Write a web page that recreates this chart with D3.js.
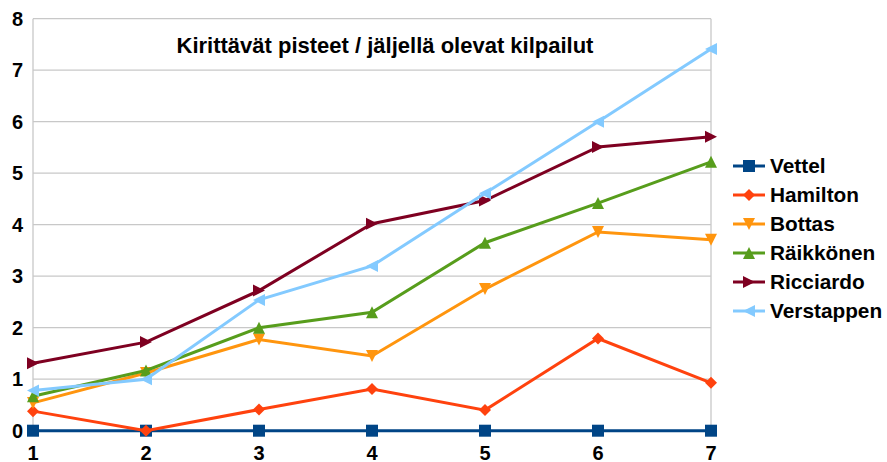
<!DOCTYPE html>
<html>
<head>
<meta charset="utf-8">
<script src="https://d3js.org/d3.v7.min.js"></script>
<style>
  body { margin: 0; background: #fff; }
  text { font-family: "Liberation Sans", Arial, sans-serif; font-weight: bold; fill: #000; }
</style>
</head>
<body>
<div id="chart"></div>
<script>
// races (x) and remaining points per race for each driver
var races = [1, 2, 3, 4, 5, 6, 7];
var yTicks = [0, 1, 2, 3, 4, 5, 6, 7, 8];
var drivers = ["Vettel", "Hamilton", "Bottas", "Räikkönen", "Ricciardo", "Verstappen"];
var vettel     = [0, 0, 0, 0, 0, 0, 0];
var hamilton   = [0.38, 0, 0.41, 0.81, 0.40, 1.79, 0.93];
var bottas     = [0.54, 1.12, 1.77, 1.45, 2.75, 3.86, 3.71];
var raikkonen  = [0.67, 1.17, 2.0, 2.3, 3.65, 4.42, 5.22];
var ricciardo  = [1.31, 1.72, 2.72, 4.02, 4.47, 5.51, 5.71];
var verstappen = [0.78, 1.0, 2.54, 3.2, 4.61, 6.0, 7.41];
var title = "Kirittävät pisteet / jäljellä olevat kilpailut";

var colors = ["#004586", "#ff420e", "#ff950e", "#579d1c", "#7e0021", "#83caff"];
var shapes = ["square", "diamond", "down", "up", "right", "left"];
var seriesValues = [vettel, hamilton, bottas, raikkonen, ricciardo, verstappen];

function drawChart() {
  var width = 887, height = 462;
  var plotLeft = 33, plotRight = 711, plotTop = 18.7, plotBottom = 430.7;

  var svg = d3.select("#chart").append("svg")
      .attr("width", width)
      .attr("height", height);

  var x = d3.scaleLinear().domain([1, 7]).range([plotLeft, plotRight]);
  var y = d3.scaleLinear().domain([0, 8]).range([plotBottom, plotTop]);

  // gridlines
  svg.selectAll(".grid")
    .data(yTicks)
    .enter().append("line")
      .attr("x1", plotLeft).attr("x2", plotRight)
      .attr("y1", function(d) { return y(d); })
      .attr("y2", function(d) { return y(d); })
      .attr("stroke", "#c8c8c8")
      .attr("stroke-width", 1.3);

  // left axis and right border
  [plotLeft, plotRight].forEach(function(px) {
    svg.append("line")
      .attr("x1", px).attr("x2", px)
      .attr("y1", plotTop).attr("y2", plotBottom + 4)
      .attr("stroke", "#c8c8c8")
      .attr("stroke-width", 1.3);
  });

  // y labels
  svg.selectAll(".ylab")
    .data(yTicks)
    .enter().append("text")
      .attr("x", 23)
      .attr("y", function(d) { return y(d); })
      .attr("dy", "0.36em")
      .attr("text-anchor", "end")
      .style("font-size", "20px")
      .text(function(d) { return d; });

  // x labels
  svg.selectAll(".xlab")
    .data(races)
    .enter().append("text")
      .attr("x", function(d) { return x(d); })
      .attr("y", 460)
      .attr("text-anchor", "middle")
      .style("font-size", "20px")
      .text(function(d) { return d; });

  // title
  svg.append("text")
      .attr("x", 385)
      .attr("y", 53)
      .attr("text-anchor", "middle")
      .style("font-size", "22px")
      .text(title);

  function markerPath(shape, s) {
    var h = s / 2;
    if (shape == "square") return "M" + (-h) + "," + (-h) + "h" + s + "v" + s + "h" + (-s) + "Z";
    if (shape == "diamond") return "M0," + (-h) + "L" + h + ",0L0," + h + "L" + (-h) + ",0Z";
    if (shape == "down") return "M" + (-h) + "," + (-h) + "L" + h + "," + (-h) + "L0," + h + "Z";
    if (shape == "up") return "M" + (-h) + "," + h + "L" + h + "," + h + "L0," + (-h) + "Z";
    if (shape == "right") return "M" + (-h) + "," + (-h) + "L" + h + ",0L" + (-h) + "," + h + "Z";
    return "M" + h + "," + (-h) + "L" + (-h) + ",0L" + h + "," + h + "Z";
  }

  var line = d3.line()
      .x(function(d, i) { return x(races[i]); })
      .y(function(d) { return y(d); });

  seriesValues.forEach(function(vals, si) {
    var g = svg.append("g");
    g.append("path")
      .datum(vals)
      .attr("d", line)
      .attr("fill", "none")
      .attr("stroke", colors[si])
      .attr("stroke-width", 3);
    g.selectAll("path.m")
      .data(vals)
      .enter().append("path")
        .attr("class", "m")
        .attr("transform", function(d, i) { return "translate(" + x(races[i]) + "," + y(d) + ")"; })
        .attr("d", markerPath(shapes[si], 12))
        .attr("fill", colors[si]);
  });

  // legend
  var legend = svg.append("g");
  drivers.forEach(function(name, i) {
    var cy = 166 + i * 29;
    legend.append("line")
      .attr("x1", 733).attr("x2", 765)
      .attr("y1", cy).attr("y2", cy)
      .attr("stroke", colors[i])
      .attr("stroke-width", 3);
    legend.append("path")
      .attr("transform", "translate(749," + cy + ")")
      .attr("d", markerPath(shapes[i], 12))
      .attr("fill", colors[i]);
    legend.append("text")
      .attr("x", 770)
      .attr("y", cy)
      .attr("dy", "0.36em")
      .style("font-size", "20.8px")
      .text(name);
  });
}

drawChart();
</script>
</body>
</html>
